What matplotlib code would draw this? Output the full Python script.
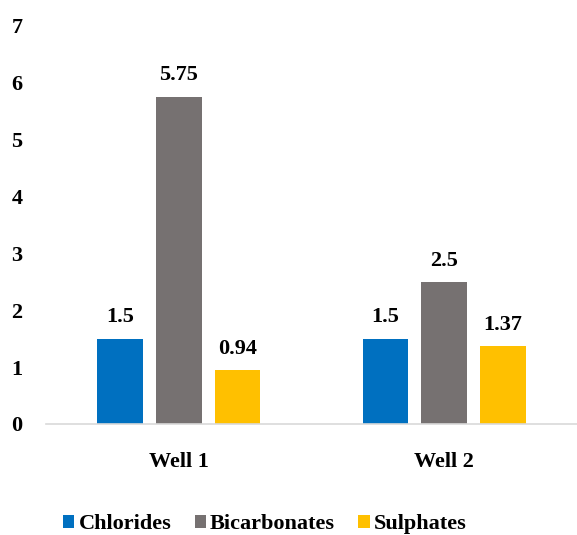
import numpy as np
import matplotlib.pyplot as plt

plt.rcParams['font.family'] = ['Liberation Serif', 'DejaVu Serif']
plt.rcParams['font.weight'] = 'bold'

wells = ['Well 1', 'Well 2']
series = ['Chlorides', 'Bicarbonates', 'Sulphates']
chlorides = [1.5, 1.5]
bicarbonates = [5.75, 2.5]
sulphates = [0.94, 1.37]
values = [chlorides, bicarbonates, sulphates]
value_labels = [['1.5', '1.5'], ['5.75', '2.5'], ['0.94', '1.37']]
colors = ['#0070C0', '#767171', '#FFC000']

fig = plt.figure(figsize=(5.77, 5.35), dpi=100)
ax = fig.add_axes([0.08, 0.2075, 0.92, 0.745])

x = np.arange(len(wells))
width = 0.172
step = 0.221
for i, (name, vals) in enumerate(zip(series, values)):
    pos = x + (i - 1) * step
    bars = ax.bar(pos, vals, width, color=colors[i], label=name)
    for b, lab in zip(bars, value_labels[i]):
        ax.annotate(lab, (b.get_x() + b.get_width() / 2, b.get_height()),
                    xytext=(0, 8), textcoords='offset points',
                    ha='center', va='bottom', fontsize=16, fontweight='bold')

ax.set_ylim(0, 7)
ax.set_xlim(-0.5, 1.5)
ax.set_yticks(range(0, 8))
ax.set_xticks(x)
ax.set_xticklabels(wells)
ax.tick_params(axis='both', length=0, labelsize=16)
ax.tick_params(axis='x', pad=20)
ax.tick_params(axis='y', pad=17)
for lbl in ax.get_yticklabels() + ax.get_xticklabels():
    lbl.set_fontweight('bold')
for s in ['top', 'right', 'left']:
    ax.spines[s].set_visible(False)
ax.spines['bottom'].set_color('#D9D9D9')
ax.spines['bottom'].set_linewidth(1.2)

fig.legend(loc='center', bbox_to_anchor=(0.459, 0.02), ncol=3, frameon=False,
           handlelength=0.5, handleheight=0.5, handletextpad=0.2,
           columnspacing=1.05, prop={'weight': 'bold', 'size': 16})

fig.savefig('out.png', dpi=100)
